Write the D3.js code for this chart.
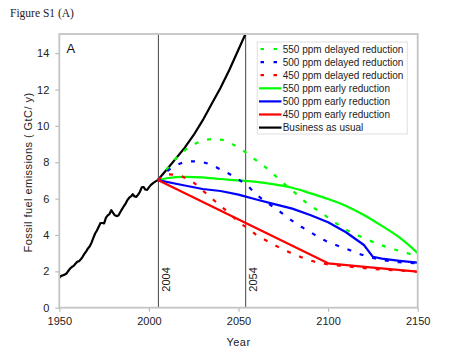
<!DOCTYPE html>
<html><head><meta charset="utf-8">
<script src="https://cdn.jsdelivr.net/npm/d3@7"></script>
<style>
html,body{margin:0;padding:0;background:#fff;}
svg{display:block;font-family:"Liberation Sans",Arial,sans-serif;}
</style></head>
<body><svg id="c" width="450" height="356"></svg>
<script>
// ---- data ----
const histYears = [1950,1951,1952,1953,1954,1955,1956,1957,1958,1959,1960,1961,1962,1963,1964,1965,1966,1967,1968,1969,1970,1971,1972,1973,1974,1975,1976,1977,1978,1979,1980,1981,1982,1983,1984,1985,1986,1987,1988,1989,1990,1991,1992,1993,1994,1995,1996,1997,1998,1999,2000,2001,2002,2003,2004,2005];
const histValues = [1.65,1.75,1.78,1.82,1.88,2.02,2.15,2.24,2.30,2.42,2.53,2.56,2.66,2.80,2.96,3.10,3.26,3.38,3.58,3.84,4.08,4.25,4.45,4.66,4.66,4.64,4.94,5.08,5.15,5.36,5.22,5.08,5.04,5.07,5.25,5.42,5.58,5.72,5.92,6.05,6.12,6.24,6.12,6.10,6.22,6.38,6.62,6.64,6.50,6.48,6.62,6.74,6.82,6.90,6.96,7.02];

const bauYears = [2005,2010,2015,2020,2025,2030,2035,2040,2045,2050,2055,2060];
const bauValues = [7.02,7.6,8.2,8.8,9.5,10.3,11.2,12.1,13.1,14.2,15.3,16.5];

const g550dYears = [2005,2010,2015,2020,2025,2030,2035,2040,2045,2050,2055,2060,2065,2070,2075,2080,2085,2090,2095,2100,2110,2120,2130,2140,2150];
const g550dValues = [7.02,7.6,8.2,8.65,8.97,9.18,9.27,9.25,9.08,8.8,8.48,8.1,7.73,7.3,6.85,6.45,6.0,5.62,5.3,4.95,4.3,3.83,3.43,3.12,2.83];

const b500dYears = [2005,2010,2015,2020,2025,2030,2035,2040,2045,2050,2055,2060,2065,2070,2075,2080,2085,2090,2095,2100,2110,2120,2130,2140,2150];
const b500dValues = [7.02,7.5,7.82,8.0,8.05,8.0,7.85,7.6,7.35,7.05,6.72,6.22,5.85,5.5,5.15,4.78,4.45,4.17,3.85,3.62,3.24,2.88,2.63,2.5,2.44];

const r450dYears = [2005,2010,2015,2020,2025,2030,2035,2040,2045,2050,2055,2060,2065,2070,2075,2080,2085,2090,2095,2100,2110,2120,2130,2140,2150];
const r450dValues = [7.02,7.33,7.32,7.15,6.88,6.45,6.02,5.6,5.18,4.72,4.38,4.0,3.72,3.45,3.2,2.98,2.78,2.6,2.47,2.38,2.28,2.18,2.1,2.04,1.97];

const g550eYears = [2005,2010,2020,2030,2040,2050,2060,2070,2080,2090,2100,2110,2120,2130,2140,2150];
const g550eValues = [7.02,7.12,7.2,7.17,7.08,7.0,6.92,6.78,6.6,6.3,5.98,5.6,5.1,4.5,3.85,3.0];

const b500eYears = [2005,2020,2030,2040,2050,2060,2070,2080,2090,2100,2110,2120,2125,2130,2140,2150];
const b500eValues = [7.02,6.72,6.53,6.42,6.22,5.95,5.7,5.45,5.1,4.7,4.15,3.45,2.8,2.7,2.58,2.48];

const r450eYears = [2005,2100,2125,2150];
const r450eValues = [7.02,2.44,2.2,1.98];

const seriesNames = ["550 ppm delayed reduction","500 ppm delayed reduction","450 ppm delayed reduction","550 ppm early reduction","500 ppm early reduction","450 ppm early reduction","Business as usual"];
const seriesColors = ["#00ff00","#0000ff","#ff0000","#00ff00","#0000ff","#ff0000","#000000"];
const seriesDashed = [true,true,true,false,false,false,false];

const xTicks = [1950,2000,2050,2100,2150];
const yTicks = [0,2,4,6,8,10,12,14];
const markerYears = [2005.3,2054];
const markerLabels = ["2004","2054"];

const titleText = "Figure S1 (A)";
const panelLabel = "A";
const xLabel = "Year";
const yLabel = "Fossil fuel emissions ( GtC/ y)";

// ---- drawing ----
const svg = d3.select("#c");
const L = 59.3, R = 417.7, T = 35, B = 307.7;
const x = d3.scaleLinear().domain([1950,2150]).range([L,R]);
const y = d3.scaleLinear().domain([0,15]).range([B,T]);

svg.append("text").attr("x",10).attr("y",16.5)
  .attr("font-family","'Liberation Serif','Times New Roman',serif")
  .attr("font-size",11.5).attr("fill","#222").text(titleText);

svg.append("defs").append("clipPath").attr("id","clip")
  .append("rect").attr("x",L).attr("y",T).attr("width",R-L).attr("height",B-T);

// axes
const gx = svg.append("g").attr("transform",`translate(0,${B})`)
  .call(d3.axisBottom(x).tickValues(xTicks).tickFormat(d3.format("d")).tickSize(4).tickPadding(6));
const gy = svg.append("g").attr("transform",`translate(${L},0)`)
  .call(d3.axisLeft(y).tickValues(yTicks).tickSize(4).tickPadding(6));
[gx,gy].forEach(g=>{
  g.select(".domain").remove();
  g.selectAll(".tick line").attr("stroke","#bbb").attr("stroke-width",1.2);
  g.selectAll(".tick text").attr("font-size",11).attr("fill","#222")
    .attr("font-family","'Liberation Sans',Arial,sans-serif");
});
gx.selectAll(".tick text").attr("dy","0.71em");

// markers
markerYears.forEach((m,i)=>{
  svg.append("line").attr("x1",x(m)).attr("x2",x(m)).attr("y1",T).attr("y2",B)
    .attr("stroke","#444").attr("stroke-width",1);
  svg.append("text").attr("transform",`translate(${x(m)+11.5},${B-16}) rotate(-90)`)
    .attr("font-size",11).attr("fill","#222").text(markerLabels[i]);
});

const plot = svg.append("g").attr("clip-path","url(#clip)");
const zip = (a,b)=>a.map((v,i)=>[v,b[i]]);

const seriesData = [
  zip(g550dYears,g550dValues), zip(b500dYears,b500dValues), zip(r450dYears,r450dValues),
  zip(g550eYears,g550eValues), zip(b500eYears,b500eValues), zip(r450eYears,r450eValues),
  zip(histYears,histValues).concat(zip(bauYears,bauValues).slice(1))
];
const smooth = [true,true,true,true,false,false,false];
const order = [6,3,4,5,0,1,2];
order.forEach(i=>{
  const ln = d3.line().x(d=>x(d[0])).y(d=>y(d[1]))
    .curve(smooth[i] ? d3.curveMonotoneX : d3.curveLinear);
  plot.append("path").attr("d",ln(seriesData[i])).attr("fill","none")
    .attr("stroke",seriesColors[i]).attr("stroke-width",2.2)
    .attr("stroke-dasharray",seriesDashed[i] ? "4,9" : null)
    .attr("stroke-linejoin","round");
});

// frame
svg.append("rect").attr("x",L).attr("y",T-1).attr("width",R-L).attr("height",B-T+1)
  .attr("fill","none").attr("stroke","#c4c4c4").attr("stroke-width",1.8);

// panel label
svg.append("text").attr("x",66.5).attr("y",52.5).attr("font-size",13).attr("fill","#111").text(panelLabel);

// legend
const lg = svg.append("g");
lg.append("rect").attr("x",257.3).attr("y",42).attr("width",150).attr("height",92)
  .attr("fill","#fff").attr("stroke","#e4e4e4").attr("stroke-width",1.2);
seriesNames.forEach((n,i)=>{
  const yy = 49 + i*13.1;
  lg.append("line").attr("x1",259).attr("x2",281.5).attr("y1",yy).attr("y2",yy)
    .attr("stroke",seriesColors[i]).attr("stroke-width",2.2)
    .attr("stroke-dasharray",seriesDashed[i] ? "0,1.5,3.5,9.5,3.5,20" : null);
  lg.append("text").attr("x",282.7).attr("y",yy+3.6).attr("font-size",10)
    .attr("fill","#222").text(n);
});

// axis titles
svg.append("text").attr("x",(L+R)/2).attr("y",345.5).attr("text-anchor","middle")
  .attr("font-size",11).attr("fill","#222").attr("letter-spacing",0.5).text(xLabel);
svg.append("text").attr("transform",`translate(31.5,172.5) rotate(-90)`).attr("text-anchor","middle")
  .attr("font-size",11).attr("fill","#222").attr("letter-spacing",0.45).text(yLabel);
</script></body></html>
